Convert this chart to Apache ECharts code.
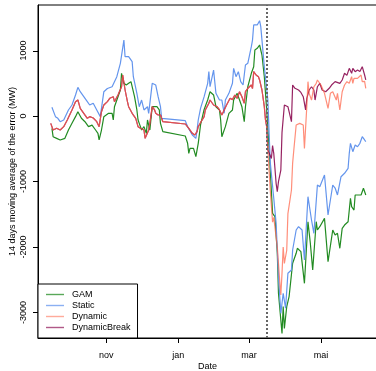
<!DOCTYPE html>
<html>
<head>
<meta charset="utf-8">
<script src="https://cdn.jsdelivr.net/npm/echarts@6/dist/echarts.min.js"></script>
<style>
  html, body { margin: 0; padding: 0; background: #fff; }
  #chart { width: 376px; height: 371px; }
</style>
</head>
<body>
<div id="chart"></div>
<script>
// x ticks (French month names, every 2 months)
const xTickDates = ['2019-11-01', '2020-01-01', '2020-03-01', '2020-05-01'];
const xTickLabels = ['nov', 'jan', 'mar', 'mai'];
const yTicks = [-3000, -2000, -1000, 0, 1000];
const breakDate = '2020-03-16';

// GAM
const gamDates = ['2019-09-16','2019-09-17','2019-09-20','2019-09-23','2019-09-24','2019-09-27','2019-09-30','2019-10-03','2019-10-06','2019-10-08','2019-10-11','2019-10-14','2019-10-17','2019-10-20','2019-10-23','2019-10-25','2019-10-26','2019-10-28','2019-10-30','2019-11-03','2019-11-06','2019-11-07','2019-11-08','2019-11-11','2019-11-13','2019-11-14','2019-11-16','2019-11-18','2019-11-20','2019-11-22','2019-11-25','2019-11-27','2019-11-28','2019-11-29','2019-12-01','2019-12-03','2019-12-05','2019-12-06','2019-12-08','2019-12-10','2019-12-11','2019-12-14','2019-12-16','2019-12-17','2019-12-19','2020-01-07','2020-01-09','2020-01-10','2020-01-11','2020-01-14','2020-01-16','2020-01-18','2020-01-20','2020-01-23','2020-01-26','2020-01-28','2020-01-31','2020-02-02','2020-02-05','2020-02-06','2020-02-07','2020-02-10','2020-02-13','2020-02-16','2020-02-17','2020-02-20','2020-02-22','2020-02-24','2020-02-26','2020-02-27','2020-02-29','2020-03-03','2020-03-05','2020-03-06','2020-03-08','2020-03-10','2020-03-12','2020-03-14','2020-03-16','2020-03-18','2020-03-19','2020-03-21','2020-03-23','2020-03-25','2020-03-26','2020-03-29','2020-03-30','2020-03-31','2020-04-02','2020-04-04','2020-04-07','2020-04-10','2020-04-11','2020-04-14','2020-04-17','2020-04-20','2020-04-22','2020-04-24','2020-04-27','2020-04-28','2020-04-30','2020-05-04','2020-05-07','2020-05-11','2020-05-13','2020-05-15','2020-05-17','2020-05-19','2020-05-21','2020-05-24','2020-05-26','2020-05-27','2020-05-29','2020-05-30','2020-06-01','2020-06-04','2020-06-06','2020-06-08'];
const gamValues = [-188,-316,-341,-366,-392,-341,-214,-112,-10,66,-35,-87,-163,-140,-214,-265,-366,-214,-10,41,41,-61,142,295,397,652,499,473,499,524,295,92,-61,-112,-214,-163,-265,-61,-214,142,168,142,92,-112,-239,-305,-417,-570,-494,-494,-621,-417,-130,100,244,371,321,142,92,-61,-316,-163,41,92,244,346,244,142,-87,142,447,652,753,1008,1034,1084,931,600,92,-470,-825,-1486,-1537,-2097,-2707,-3319,-2911,-3243,-2911,-2758,-2249,-2097,-2020,-2072,-2555,-1614,-1944,-2351,-1614,-1741,-1690,-1563,-2225,-1741,-1817,-1791,-2020,-1715,-1665,-1614,-1257,-1385,-1436,-1206,-1206,-1206,-1104,-1206];

// Static
const staticDates = ['2019-09-16','2019-09-19','2019-09-21','2019-09-23','2019-09-26','2019-09-27','2019-09-30','2019-10-03','2019-10-06','2019-10-08','2019-10-10','2019-10-13','2019-10-16','2019-10-18','2019-10-21','2019-10-24','2019-10-27','2019-10-30','2019-11-02','2019-11-06','2019-11-10','2019-11-13','2019-11-16','2019-11-17','2019-11-20','2019-11-23','2019-11-24','2019-11-27','2019-11-29','2019-12-01','2019-12-03','2019-12-06','2019-12-07','2019-12-10','2019-12-13','2019-12-15','2019-12-17','2019-12-18','2020-01-07','2020-01-09','2020-01-13','2020-01-16','2020-01-17','2020-01-18','2020-01-20','2020-01-23','2020-01-26','2020-01-27','2020-01-28','2020-01-31','2020-02-02','2020-02-05','2020-02-07','2020-02-09','2020-02-10','2020-02-13','2020-02-16','2020-02-17','2020-02-19','2020-02-21','2020-02-23','2020-02-25','2020-02-27','2020-02-29','2020-03-03','2020-03-04','2020-03-05','2020-03-08','2020-03-10','2020-03-11','2020-03-14','2020-03-17','2020-03-19','2020-03-22','2020-03-24','2020-03-26','2020-03-28','2020-03-30','2020-04-01','2020-04-03','2020-04-06','2020-04-07','2020-04-10','2020-04-12','2020-04-15','2020-04-17','2020-04-20','2020-04-23','2020-04-25','2020-04-28','2020-04-30','2020-05-04','2020-05-07','2020-05-11','2020-05-13','2020-05-15','2020-05-18','2020-05-21','2020-05-24','2020-05-25','2020-05-26','2020-05-28','2020-05-30','2020-06-01','2020-06-03','2020-06-05','2020-06-07','2020-06-08'];
const staticValues = [133,-10,-35,-87,-61,-40,92,168,321,438,371,295,219,168,194,92,-10,371,420,447,600,804,1160,906,906,829,600,346,142,244,92,142,41,499,473,295,142,-35,-71,-163,-290,-341,-214,-61,120,295,499,677,447,702,346,244,244,41,244,346,499,728,600,677,524,473,779,804,1058,1160,1390,1390,1455,1364,753,244,-700,-1257,-1638,-2454,-3013,-2707,-2936,-2402,-2351,-2046,-1741,-1690,-1741,-2199,-1232,-1588,-1791,-1054,-1080,-901,-1512,-1054,-1100,-1206,-927,-875,-799,-570,-417,-545,-443,-470,-417,-316,-366,-392];

// Dynamic
const dynDates = ['2019-09-15','2019-09-17','2019-09-20','2019-09-23','2019-09-26','2019-09-29','2019-09-30','2019-10-03','2019-10-06','2019-10-08','2019-10-10','2019-10-13','2019-10-16','2019-10-18','2019-10-21','2019-10-24','2019-10-26','2019-10-28','2019-10-30','2019-11-02','2019-11-04','2019-11-07','2019-11-08','2019-11-11','2019-11-14','2019-11-15','2019-11-17','2019-11-19','2019-11-20','2019-11-23','2019-11-26','2019-11-28','2019-11-30','2019-12-03','2019-12-04','2019-12-07','2019-12-08','2019-12-10','2019-12-12','2019-12-13','2019-12-15','2019-12-17','2019-12-19','2020-01-07','2020-01-10','2020-01-13','2020-01-15','2020-01-17','2020-01-18','2020-01-20','2020-01-23','2020-01-24','2020-01-27','2020-01-28','2020-01-31','2020-02-03','2020-02-05','2020-02-07','2020-02-09','2020-02-11','2020-02-14','2020-02-16','2020-02-18','2020-02-20','2020-02-22','2020-02-24','2020-02-26','2020-02-27','2020-02-29','2020-03-03','2020-03-04','2020-03-05','2020-03-07','2020-03-09','2020-03-10','2020-03-12','2020-03-14','2020-03-15','2020-03-16','2020-03-17','2020-03-19','2020-03-21','2020-03-22','2020-03-25','2020-03-27','2020-03-28','2020-03-29','2020-03-30','2020-03-31','2020-04-02','2020-04-03','2020-04-06','2020-04-07','2020-04-08','2020-04-10','2020-04-13','2020-04-16','2020-04-17','2020-04-19','2020-04-20','2020-04-21','2020-04-23','2020-04-25','2020-04-27','2020-04-28','2020-05-01','2020-05-04','2020-05-07','2020-05-09','2020-05-11','2020-05-14','2020-05-15','2020-05-17','2020-05-19','2020-05-21','2020-05-23','2020-05-25','2020-05-27','2020-05-28','2020-05-29','2020-06-01','2020-06-04','2020-06-05','2020-06-07','2020-06-08'];
const dynValues = [-112,-214,-188,-214,-163,-61,-35,92,219,244,117,41,-35,-10,-30,-87,-163,66,168,219,270,295,219,321,447,626,397,219,142,41,-35,-163,-188,-214,-341,-214,-112,142,92,41,15,15,-87,-122,-188,-265,-290,-239,-163,-100,-10,92,194,244,168,142,92,15,92,168,270,250,321,270,371,295,194,371,423,473,420,677,626,600,550,397,142,-61,-163,-519,-1130,-1620,-1550,-2000,-2504,-2733,-2400,-2000,-2250,-2050,-1490,-1130,-720,-520,-137,-112,-137,-494,142,524,346,244,447,499,550,473,346,117,346,371,244,346,92,371,473,524,499,600,499,575,575,626,524,530,423];

// DynamicBreak (same as Dynamic before the break)
const dynBreakDates = ['2020-03-20','2020-03-21','2020-03-22','2020-03-24','2020-03-25','2020-03-26','2020-03-27','2020-03-28','2020-03-29','2020-03-31','2020-04-03','2020-04-04','2020-04-06','2020-04-07','2020-04-09','2020-04-12','2020-04-14','2020-04-16','2020-04-18','2020-04-19','2020-04-21','2020-04-23','2020-04-25','2020-04-26','2020-04-28','2020-04-30','2020-05-02','2020-05-05','2020-05-08','2020-05-10','2020-05-13','2020-05-17','2020-05-19','2020-05-21','2020-05-23','2020-05-25','2020-05-27','2020-05-28','2020-05-30','2020-06-01','2020-06-03','2020-06-05','2020-06-07','2020-06-08'];
const dynBreakValues = [-650,-450,-570,-1028,-1156,-1003,-1003,-825,-250,168,142,150,-87,473,423,397,360,295,92,270,397,447,397,244,447,499,397,371,423,473,524,499,550,652,620,728,652,728,677,702,680,753,626,550];

const toTime = s => +new Date(s.replace(/-/g, '/'));
const pairs = (dates, values) => dates.map((d, i) => [toTime(d), values[i]]);

const breakTime = toTime(breakDate);
const dynBreakData = pairs(dynDates, dynValues)
    .filter(p => p[0] <= toTime('2020-03-17'))
    .concat(pairs(dynBreakDates, dynBreakValues));

const tickTimes = xTickDates.map(toTime);
const xMin = toTime('2019-09-04') + 0.2 * 86400000;
const xMax = toTime('2020-06-17') + 0.5 * 86400000;
const yMin = -3390, yMax = 1695;
const font = "'Liberation Sans', Arial, Helvetica, sans-serif";

const myChart = echarts.init(document.getElementById('chart'));

const lineSeries = (name, color, data, extra) => Object.assign({
    name: name,
    type: 'line',
    symbol: 'none',
    showSymbol: false,
    color: color,
    lineStyle: { width: 1.2, color: color },
    data: data
}, extra || {});

const option = {
    animation: false,
    grid: {
        show: true,
        left: 38, top: 5, right: -1, bottom: 33,
        outerBoundsMode: 'none',
        containLabel: false,
        borderColor: '#000', borderWidth: 1
    },
    legend: {
        orient: 'vertical',
        left: 38, bottom: 33,
        data: ['GAM', 'Static', 'Dynamic', 'DynamicBreak'],
        icon: 'path://M0,0H18V1.4H0Z',
        itemWidth: 18, itemHeight: 9, itemGap: 2,
        padding: [6, 7, 6, 8],
        borderColor: '#000', borderWidth: 1,
        backgroundColor: '#fff',
        borderRadius: 0,
        itemStyle: { opacity: 0.75 },
        textStyle: { fontSize: 9, color: '#000', fontFamily: font, padding: [0, 0, 0, 3] }
    },
    xAxis: {
        // timestamps on a plain value axis so the month ticks can be placed exactly
        type: 'value',
        min: xMin,
        max: xMax,
        name: 'Date',
        nameLocation: 'middle',
        nameGap: 24,
        nameMoveOverlap: false,
        nameTextStyle: { fontSize: 9, color: '#000', fontFamily: font },
        axisLine: { show: true, onZero: false, lineStyle: { color: '#000', width: 1 } },
        axisTick: { show: false },
        axisLabel: {
            customValues: tickTimes,
            margin: 13,
            fontSize: 9, color: '#000', fontFamily: font,
            formatter: v => {
                const i = tickTimes.indexOf(+v);
                return i >= 0 ? xTickLabels[i] : '';
            }
        },
        splitLine: { show: false }
    },
    yAxis: {
        type: 'value',
        min: yMin,
        max: yMax,
        name: '14 days moving average of the error (MW)',
        nameLocation: 'middle',
        nameGap: 21,
        nameMoveOverlap: false,
        nameTextStyle: { fontSize: 9, color: '#000', fontFamily: font },
        axisLine: { show: true, onZero: false, lineStyle: { color: '#000', width: 1 } },
        axisTick: { show: false },
        axisLabel: {
            customValues: yTicks,
            rotate: 90,
            margin: 10,
            fontSize: 9, color: '#000', fontFamily: font,
            formatter: v => String(v)
        },
        splitLine: { show: false }
    },
    series: [
        lineSeries('GAM', '#228B22', pairs(gamDates, gamValues), {
            markLine: {
                silent: true,
                symbol: 'none',
                label: { show: false },
                lineStyle: { color: '#666', type: [2, 2], width: 2 },
                data: [{ xAxis: breakTime }]
            }
        }),
        lineSeries('Static', '#6495ED', pairs(staticDates, staticValues)),
        lineSeries('DynamicBreak', 'rgba(139,10,80,0.9)', dynBreakData),
        lineSeries('Dynamic', 'rgba(255,99,71,0.72)', pairs(dynDates, dynValues))
    ]
};

myChart.setOption(option);

// outward tick marks, placed through the grid's own coordinate conversion
const tickLen = 5;
const tickMarks = [];
tickTimes.forEach(t => {
    const p = myChart.convertToPixel({ gridIndex: 0 }, [t, yMin]);
    const x = Math.round(p[0]) + 0.5;
    tickMarks.push({
        type: 'line', silent: true, z: 100,
        shape: { x1: x, y1: p[1], x2: x, y2: p[1] + tickLen },
        style: { stroke: '#000', lineWidth: 1 }
    });
});
yTicks.forEach(v => {
    const p = myChart.convertToPixel({ gridIndex: 0 }, [xMin, v]);
    const y = Math.round(p[1]) + 0.5;
    tickMarks.push({
        type: 'line', silent: true, z: 100,
        shape: { x1: p[0] - tickLen, y1: y, x2: p[0], y2: y },
        style: { stroke: '#000', lineWidth: 1 }
    });
});
myChart.setOption({ graphic: { elements: tickMarks } });
</script>
</body>
</html>
